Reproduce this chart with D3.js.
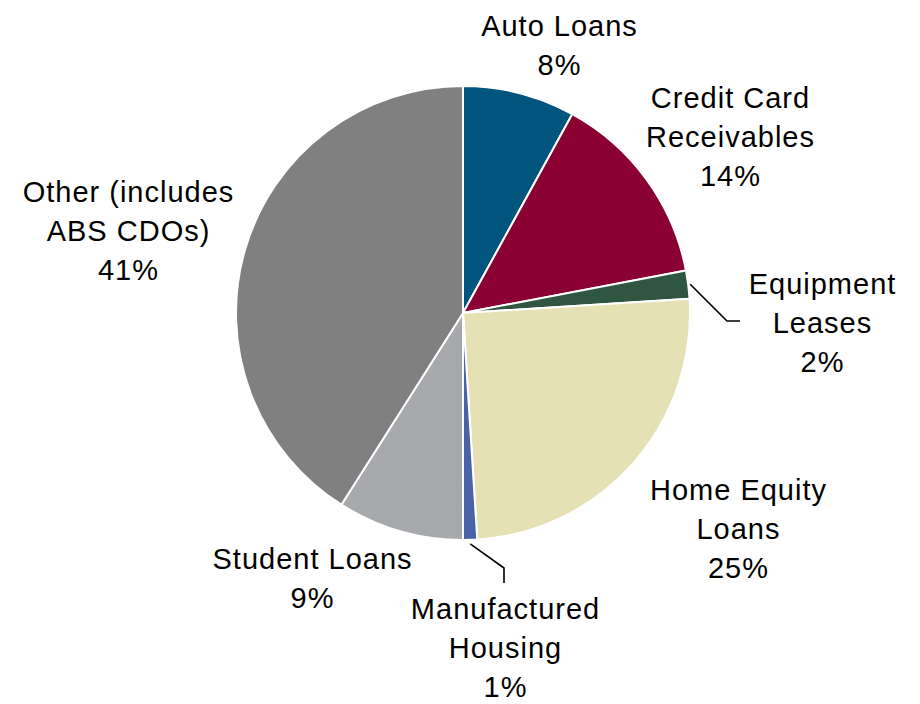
<!DOCTYPE html>
<html>
<head>
<meta charset="utf-8">
<script src="https://cdn.jsdelivr.net/npm/d3@7/dist/d3.min.js"></script>
<style>
  html, body { margin: 0; padding: 0; background: #ffffff; }
  svg { display: block; }
  text { font-family: "Liberation Sans", Arial, sans-serif; fill: #000; }
</style>
</head>
<body>
<svg id="chart" width="920" height="704"></svg>
<script>
// Composition of ABS collateral, by asset type (percent of total)
const categories = [
  "Auto Loans",
  "Credit Card Receivables",
  "Equipment Leases",
  "Home Equity Loans",
  "Manufactured Housing",
  "Student Loans",
  "Other (includes ABS CDOs)"
];
const shares = [8, 14, 2, 25, 1, 9, 41];
const colors = ["#00557f", "#8a0033", "#2e5640", "#e6e1b4", "#4a62a8", "#a7a9ad", "#808080"];

// Label text lines per slice (the last line carries the percentage)
const labelLines = [
  ["Auto Loans"],
  ["Credit Card", "Receivables"],
  ["Equipment", "Leases"],
  ["Home Equity", "Loans"],
  ["Manufactured", "Housing"],
  ["Student Loans"],
  ["Other (includes", "ABS CDOs)"]
];

const data = categories.map((c, i) => ({ name: c, value: shares[i], color: colors[i], lines: labelLines[i] }));

const svg = d3.select("#chart");
const cx = 463, cy = 313, radius = 227;
const g = svg.append("g").attr("transform", `translate(${cx},${cy})`);

const pie = d3.pie().value(d => d.value).sort(null);
const arc = d3.arc().innerRadius(0).outerRadius(radius);
const arcs = pie(data);

g.selectAll("path.slice")
  .data(arcs)
  .join("path")
  .attr("class", "slice")
  .attr("d", arc)
  .attr("fill", d => d.data.color)
  .attr("stroke", "#ffffff")
  .attr("stroke-width", 2)
  .attr("stroke-linejoin", "round");

// Label block placement: centre x and first baseline, relative to the pie centre
const labelLayout = {
  "Auto Loans":                { x: 96,   y: -277 },
  "Credit Card Receivables":   { x: 267,  y: -205 },
  "Equipment Leases":          { x: 359,  y: -19 },
  "Home Equity Loans":         { x: 275,  y: 187 },
  "Manufactured Housing":      { x: 42,   y: 306 },
  "Student Loans":             { x: -151, y: 256 },
  "Other (includes ABS CDOs)": { x: -335, y: -111 }
};
const lineHeight = 39;

arcs.forEach(a => {
  const pos = labelLayout[a.data.name];
  const lines = a.data.lines.concat([a.data.value + "%"]);
  const t = g.append("text")
    .attr("text-anchor", "middle")
    .attr("font-size", 29)
    .attr("letter-spacing", 1);
  lines.forEach((ln, k) => {
    t.append("tspan").attr("x", pos.x + 0.5).attr("y", pos.y + k * lineHeight).text(ln);
  });
});

// Leader lines for the two thin slices
function edgePoint(a, r) {
  const ang = (a.startAngle + a.endAngle) / 2;
  return [r * Math.sin(ang), -r * Math.cos(ang)];
}
const line = d3.line();
const equip = arcs[2];
const e0 = edgePoint(equip, radius + 2);
g.append("path")
  .attr("d", line([e0, [264, 8], [277, 8]]))
  .attr("fill", "none").attr("stroke", "#000").attr("stroke-width", 1.6);

const manu = arcs[4];
const m0 = edgePoint(manu, radius + 4);
g.append("path")
  .attr("d", line([m0, [41, 255], [41, 270]]))
  .attr("fill", "none").attr("stroke", "#000").attr("stroke-width", 1.6);
</script>
</body>
</html>
